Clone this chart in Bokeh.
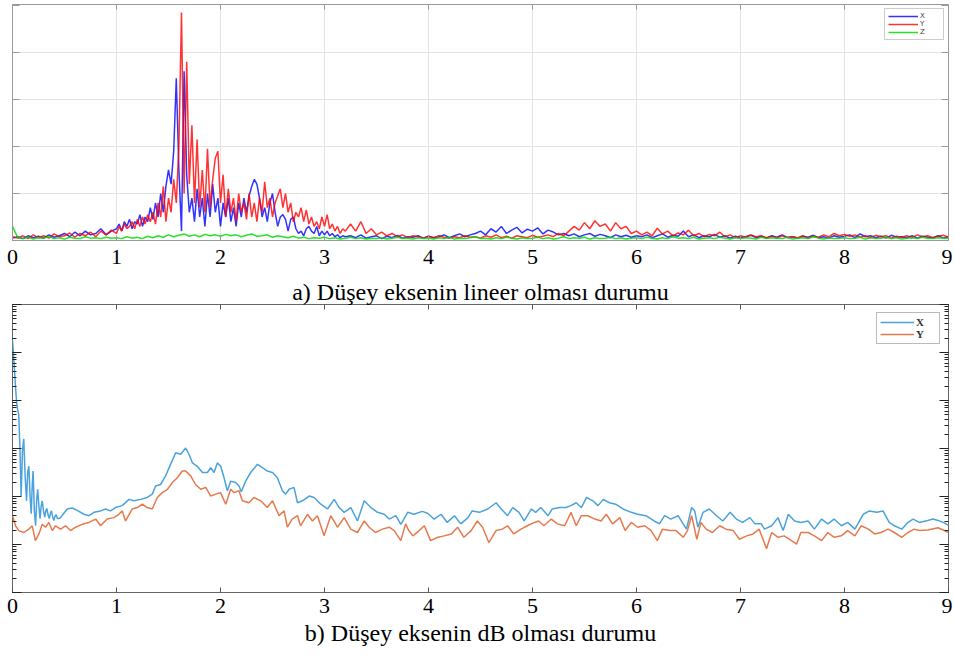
import numpy as np
from bokeh.plotting import figure
from bokeh.layouts import column
from bokeh.models import (Range1d, LinearAxis, LogAxis, FixedTicker, LogTicker, Title,
                          CustomJSTickFormatter)
from bokeh.embed import file_html
from bokeh.resources import INLINE

# ---------------- data: panel a (linear amplitude, grid units) ----------------
XTICKS = [0, 1, 2, 3, 4, 5, 6, 7, 8, 9]
CAPTION_A = "a) Düşey eksenin lineer olması durumu"
CAPTION_B = "b) Düşey eksenin dB olması durumu"

xa_low = np.round(np.arange(0.0, 0.95 + 1e-9, 0.05), 3)     # 0.00 .. 0.95
xa_mid = np.round(np.arange(1.0, 3.2 + 1e-9, 0.025), 3)     # 1.000 .. 3.200
xa_high = np.round(np.arange(3.25, 9.0 + 1e-9, 0.05), 3)    # 3.25 .. 9.00
xa_green = np.round(np.arange(0.0, 9.0 + 1e-9, 0.05), 3)    # 0.00 .. 9.00

ax_low = [0.05, 0.08, 0.04, 0.1, 0.06, 0.09, 0.05, 0.12, 0.07, 0.1,
          0.15, 0.08, 0.18, 0.1, 0.2, 0.12, 0.15, 0.25, 0.12, 0.2]
ax_mid = [0.25, 0.35, 0.2, 0.4, 0.3, 0.45, 0.25, 0.4, 0.35, 0.55,
          0.3, 0.5, 0.4, 0.7, 0.45, 0.8, 0.5, 1.0, 0.6, 1.15,
          1.5, 1.2, 1.9, 3.45, 1.5, 0.2, 3.6, 1.4, 0.6, 0.9,
          0.4, 1.1, 0.5, 0.9, 0.3, 1.0, 0.5, 1.2, 0.6, 0.9,
          0.3, 0.8, 0.5, 0.9, 0.4, 0.7, 0.3, 0.8, 0.5, 0.9,
          0.6, 0.95, 1.15, 1.3, 1.2, 0.9, 0.5, 0.7, 0.4, 0.8,
          1.0, 0.6, 0.3, 0.5, 0.55, 0.45, 0.2, 0.45, 0.5, 0.25,
          0.15, 0.2, 0.1, 0.25, 0.3, 0.2, 0.15, 0.3, 0.1, 0.2,
          0.12, 0.2, 0.1, 0.15, 0.08, 0.12, 0.06, 0.1, 0.08]
ax_high = [0.1, 0.06, 0.12, 0.05, 0.08, 0.1, 0.04, 0.09, 0.06, 0.11,
           0.05, 0.08, 0.07, 0.1, 0.05, 0.09, 0.06, 0.08, 0.12, 0.06,
           0.1, 0.14, 0.08, 0.12,
           0.15, 0.2, 0.12, 0.25, 0.18, 0.3, 0.15, 0.22, 0.28, 0.16,
           0.24, 0.2, 0.27, 0.14, 0.22, 0.18, 0.12, 0.15,
           0.1, 0.14, 0.08, 0.12, 0.15, 0.09, 0.13, 0.1, 0.06, 0.12,
           0.08, 0.11, 0.07, 0.1,
           0.08, 0.12, 0.06, 0.1, 0.14, 0.07, 0.11, 0.09, 0.2, 0.08,
           0.12, 0.06, 0.1, 0.08, 0.13, 0.07, 0.1, 0.05, 0.09, 0.06,
           0.08, 0.11, 0.06, 0.09, 0.05, 0.1, 0.07, 0.12, 0.06, 0.08,
           0.05, 0.09, 0.07, 0.11, 0.06, 0.08, 0.05, 0.1, 0.07, 0.09,
           0.12, 0.06, 0.14, 0.08, 0.1, 0.06, 0.09, 0.05, 0.11, 0.07,
           0.08, 0.06, 0.1, 0.05, 0.09, 0.07, 0.06, 0.1, 0.05, 0.08]

ay_low = [0.08, 0.05, 0.1, 0.04, 0.12, 0.06, 0.1, 0.05, 0.14, 0.08,
          0.1, 0.16, 0.07, 0.15, 0.1, 0.18, 0.08, 0.2, 0.12, 0.22]
ay_mid = [0.15, 0.3, 0.2, 0.35, 0.25, 0.3, 0.4, 0.25, 0.45, 0.3,
          0.5, 0.35, 0.55, 0.4, 0.6, 0.35, 0.8, 0.5, 1.15, 0.4,
          0.9, 0.6, 1.3, 0.8, 2.0, 4.85, 1.0, 3.8, 1.2, 2.45,
          0.8, 2.15, 0.7, 1.5, 0.6, 1.95, 0.7, 1.3, 1.75, 1.9,
          0.8, 1.4, 0.5, 1.1, 0.6, 0.9, 0.4, 1.0, 0.6, 0.8,
          0.45, 1.0, 0.5, 0.8, 0.4, 0.9, 0.6, 1.25, 0.7, 0.9,
          0.5, 0.8, 0.95, 1.1, 0.7, 1.0, 0.6, 0.8, 0.4, 0.6,
          0.5, 0.7, 0.4, 0.65, 0.35, 0.5, 0.3, 0.4, 0.25, 0.5,
          0.3, 0.55, 0.25, 0.35, 0.2, 0.3, 0.15, 0.25, 0.2]
ay_high = [0.35, 0.2, 0.4, 0.15, 0.25, 0.12, 0.18, 0.1, 0.15, 0.08,
           0.12, 0.06, 0.1, 0.08, 0.05, 0.09, 0.06, 0.1, 0.07, 0.05,
           0.08, 0.06, 0.1, 0.07,
           0.08, 0.05, 0.1, 0.07, 0.12, 0.06, 0.09, 0.05, 0.1, 0.08,
           0.06, 0.11, 0.07, 0.09, 0.12, 0.08, 0.15, 0.1,
           0.2, 0.3, 0.22, 0.38, 0.25, 0.42, 0.3, 0.35, 0.2, 0.38,
           0.25, 0.3, 0.15, 0.2,
           0.12, 0.18, 0.1, 0.26, 0.14, 0.2, 0.1, 0.16, 0.12, 0.22,
           0.1, 0.15, 0.08, 0.13, 0.1, 0.18, 0.08, 0.12, 0.06, 0.1,
           0.07, 0.12, 0.08, 0.1, 0.06, 0.09, 0.05, 0.1, 0.07, 0.08,
           0.06, 0.1, 0.05, 0.09, 0.07, 0.12, 0.08, 0.15, 0.1, 0.13,
           0.09, 0.12, 0.07, 0.1, 0.06, 0.11, 0.08, 0.1, 0.05, 0.09,
           0.07, 0.1, 0.06, 0.12, 0.08, 0.1, 0.06, 0.09, 0.11, 0.07]

az_vals = [0.3, 0.06, 0.04, 0.07, 0.03, 0.06, 0.05, 0.08, 0.04, 0.06,
           0.03, 0.07, 0.05, 0.04, 0.08, 0.05, 0.06, 0.04, 0.07, 0.05,
           0.06, 0.04, 0.08, 0.05, 0.07, 0.04, 0.09, 0.06, 0.1, 0.07,
           0.12, 0.08, 0.11, 0.14, 0.09, 0.12, 0.08, 0.13, 0.1, 0.12,
           0.09, 0.13, 0.1, 0.12, 0.08, 0.11, 0.14, 0.09, 0.1, 0.12,
           0.07, 0.1, 0.08, 0.06, 0.09, 0.05, 0.07, 0.04, 0.06, 0.05,
           0.07, 0.04, 0.06, 0.03, 0.05, 0.07, 0.04, 0.06, 0.03, 0.05,
           0.04, 0.06, 0.03, 0.05, 0.07, 0.04, 0.05, 0.03, 0.06, 0.04,
           0.05, 0.03, 0.06, 0.04, 0.07, 0.03, 0.05, 0.04, 0.06, 0.08,
           0.04, 0.05, 0.03, 0.06, 0.04, 0.07, 0.05, 0.03, 0.06, 0.04,
           0.05, 0.07, 0.04, 0.06, 0.03, 0.05, 0.08, 0.04, 0.06, 0.05,
           0.07, 0.03, 0.06, 0.04, 0.05, 0.07, 0.04, 0.06, 0.03, 0.05,
           0.06, 0.04, 0.07, 0.05, 0.03, 0.06, 0.04, 0.08, 0.05, 0.06,
           0.04, 0.07, 0.03, 0.05, 0.06, 0.04, 0.07, 0.05, 0.03, 0.06,
           0.04, 0.06, 0.05, 0.03, 0.07, 0.04, 0.06, 0.05, 0.04, 0.07,
           0.03, 0.05, 0.06, 0.04, 0.08, 0.05, 0.03, 0.06, 0.04, 0.05,
           0.06, 0.04, 0.05, 0.07, 0.03, 0.06, 0.04, 0.05, 0.07, 0.04,
           0.06, 0.03, 0.05, 0.06, 0.04, 0.07, 0.05, 0.04, 0.06, 0.05,
           0.04]

# ---------------- data: panel b (dB, 10 dB per decade) ----------------
bx_pairs = [
    (0.0, -7.5), (0.01, -10.5), (0.02, -14.0), (0.03, -17.5), (0.04, -20.5), (0.05, -22.0),
    (0.06, -22.9), (0.072, -30.0), (0.083, -39.9), (0.096, -30.5), (0.108, -28.0),
    (0.122, -36.0), (0.135, -40.9), (0.146, -35.0), (0.157, -33.7), (0.17, -40.5),
    (0.18, -43.6), (0.19, -37.5), (0.198, -34.7), (0.21, -43.0), (0.222, -46.1),
    (0.232, -41.0), (0.242, -38.5), (0.254, -42.0), (0.265, -44.6), (0.276, -42.0),
    (0.286, -40.9), (0.298, -43.0), (0.31, -44.3), (0.32, -43.0), (0.33, -42.5),
    (0.342, -43.8), (0.354, -44.6), (0.364, -43.5), (0.374, -43.0), (0.386, -44.2),
    (0.398, -45.0), (0.41, -44.0), (0.42, -43.8), (0.432, -44.6), (0.446, -44.6),
    (0.462, -44.4), (0.494, -43.5), (0.526, -42.6), (0.574, -42.4), (0.622, -42.9),
    (0.687, -43.7), (0.735, -44.0), (0.783, -43.3), (0.847, -43.0), (0.895, -42.6),
    (0.943, -43.0), (0.991, -42.3), (1.055, -41.9), (1.12, -40.6), (1.167, -40.9),
    (1.232, -40.6), (1.296, -40.2), (1.344, -39.5), (1.376, -37.8), (1.424, -37.5),
    (1.472, -35.7), (1.52, -33.3), (1.569, -30.9), (1.617, -31.2), (1.665, -29.9),
    (1.697, -31.2), (1.73, -33.0), (1.777, -33.7), (1.826, -35.0), (1.874, -35.0),
    (1.906, -34.0), (1.938, -35.0), (1.97, -33.0), (2.002, -33.7), (2.034, -36.1),
    (2.066, -38.8), (2.098, -36.8), (2.146, -37.1), (2.178, -37.8), (2.2, -39.0),
    (2.242, -36.8), (2.29, -35.0), (2.355, -33.3), (2.403, -34.0), (2.45, -34.7),
    (2.5, -35.0), (2.547, -36.1), (2.595, -38.8), (2.627, -39.5), (2.66, -38.5),
    (2.707, -38.1), (2.74, -41.3), (2.788, -40.9), (2.852, -39.9), (2.9, -40.2),
    (2.964, -41.6), (3.029, -42.6), (3.093, -40.6), (3.141, -42.3), (3.189, -43.3),
    (3.253, -42.3), (3.317, -45.1), (3.382, -40.9), (3.446, -42.3), (3.51, -43.3),
    (3.574, -43.7), (3.622, -44.7), (3.686, -44.0), (3.734, -45.8), (3.80, -43.3),
    (3.86, -43.7), (3.94, -43.1), (3.99, -43.5), (4.055, -44.7), (4.12, -43.7),
    (4.18, -45.4), (4.25, -44.0), (4.31, -45.7), (4.38, -44.4), (4.42, -43.0),
    (4.49, -43.3), (4.57, -42.6), (4.65, -41.3), (4.70, -42.6), (4.76, -44.0),
    (4.81, -42.3), (4.87, -43.3), (4.92, -45.1), (4.99, -42.6), (5.03, -43.3),
    (5.08, -42.3), (5.15, -44.0), (5.19, -42.6), (5.26, -42.3), (5.32, -42.3),
    (5.37, -41.9), (5.42, -41.3), (5.47, -42.3), (5.52, -40.2), (5.58, -40.9),
    (5.63, -41.9), (5.68, -40.6), (5.74, -41.3), (5.80, -41.6), (5.87, -42.6),
    (5.95, -43.3), (6.01, -43.7), (6.09, -44.0), (6.17, -45.1), (6.22, -45.7),
    (6.27, -44.0), (6.33, -44.7), (6.40, -44.0), (6.48, -46.8), (6.53, -42.3),
    (6.56, -43.0), (6.59, -46.4), (6.64, -43.3), (6.70, -42.6), (6.77, -44.0),
    (6.83, -45.1), (6.90, -43.3), (6.96, -44.7), (7.02, -45.4), (7.09, -44.4),
    (7.14, -45.7), (7.20, -45.7), (7.23, -46.8), (7.30, -46.1), (7.36, -44.4),
    (7.41, -47.1), (7.46, -43.7), (7.52, -45.1), (7.58, -45.4), (7.65, -45.1),
    (7.71, -46.8), (7.78, -44.7), (7.84, -45.7), (7.90, -44.7), (7.97, -46.1),
    (8.03, -45.4), (8.10, -46.8), (8.18, -43.7), (8.24, -43.0), (8.31, -43.3),
    (8.37, -43.0), (8.43, -45.4), (8.48, -46.1), (8.55, -46.8), (8.61, -45.4),
    (8.66, -44.7), (8.72, -45.4), (8.80, -45.0), (8.85, -44.7), (8.90, -45.0),
    (8.95, -45.4), (9.0, -46.0)]

by_pairs = [
    (0.0, -44.0), (0.029, -46.1), (0.06, -47.1), (0.109, -47.5), (0.157, -46.8),
    (0.19, -46.1), (0.22, -49.2), (0.254, -47.8), (0.286, -45.8), (0.318, -46.4),
    (0.35, -45.4), (0.382, -47.1), (0.414, -46.1), (0.462, -46.8), (0.51, -46.1),
    (0.558, -47.1), (0.607, -46.4), (0.67, -45.8), (0.735, -45.4), (0.8, -44.7),
    (0.847, -46.1), (0.91, -44.7), (0.975, -44.4), (1.023, -43.7), (1.055, -43.0),
    (1.087, -45.1), (1.152, -42.6), (1.2, -42.3), (1.248, -41.6), (1.296, -42.3),
    (1.344, -42.6), (1.392, -40.2), (1.44, -39.2), (1.49, -38.5), (1.537, -37.1),
    (1.585, -36.1), (1.633, -34.7), (1.665, -34.7), (1.713, -35.7), (1.76, -37.5),
    (1.81, -38.5), (1.858, -38.1), (1.906, -39.9), (1.954, -39.5), (2.0, -39.2),
    (2.05, -41.6), (2.098, -38.5), (2.13, -39.2), (2.178, -38.8), (2.21, -40.9),
    (2.274, -41.3), (2.32, -40.2), (2.387, -40.9), (2.45, -42.3), (2.5, -40.9),
    (2.563, -44.0), (2.611, -43.0), (2.643, -46.4), (2.69, -44.7), (2.74, -44.0),
    (2.77, -46.1), (2.836, -43.7), (2.884, -45.1), (2.932, -44.0), (2.996, -48.2),
    (3.06, -44.0), (3.125, -46.4), (3.189, -44.4), (3.253, -46.8), (3.317, -47.5),
    (3.382, -45.1), (3.43, -46.4), (3.49, -47.5), (3.558, -46.8), (3.622, -46.4),
    (3.67, -47.1), (3.734, -49.2), (3.78, -45.7), (3.81, -47.1), (3.85, -48.2),
    (3.91, -47.1), (3.96, -46.1), (4.02, -49.2), (4.09, -48.5), (4.15, -48.2),
    (4.22, -47.8), (4.28, -46.4), (4.34, -48.5), (4.41, -47.1), (4.47, -45.1),
    (4.52, -46.4), (4.58, -49.6), (4.65, -47.1), (4.71, -46.8), (4.76, -46.1),
    (4.82, -47.8), (4.89, -46.8), (4.95, -46.1), (5.02, -45.4), (5.06, -45.1),
    (5.11, -46.1), (5.18, -44.7), (5.24, -45.7), (5.31, -46.1), (5.37, -43.3),
    (5.42, -46.1), (5.47, -44.0), (5.53, -44.0), (5.60, -44.7), (5.66, -45.1),
    (5.71, -43.7), (5.77, -45.7), (5.84, -44.4), (5.89, -47.1), (5.95, -45.4),
    (6.01, -46.4), (6.08, -46.1), (6.14, -47.1), (6.20, -49.2), (6.25, -46.8),
    (6.32, -47.1), (6.38, -47.1), (6.45, -48.5), (6.49, -47.1), (6.53, -44.0),
    (6.58, -48.9), (6.62, -45.4), (6.67, -46.8), (6.73, -47.5), (6.80, -46.1),
    (6.86, -46.8), (6.93, -47.1), (6.99, -48.9), (7.06, -48.2), (7.12, -47.8),
    (7.18, -46.8), (7.25, -50.9), (7.30, -47.5), (7.36, -48.5), (7.42, -48.2),
    (7.49, -49.2), (7.54, -49.9), (7.58, -47.5), (7.65, -47.5), (7.71, -48.2),
    (7.78, -49.2), (7.84, -47.5), (7.90, -48.5), (7.97, -48.2), (8.03, -47.1),
    (8.10, -48.2), (8.16, -46.1), (8.23, -46.8), (8.29, -47.8), (8.35, -47.5),
    (8.42, -46.8), (8.48, -47.5), (8.55, -48.5), (8.61, -47.5), (8.67, -46.8),
    (8.72, -47.1), (8.80, -47.0), (8.90, -46.5), (9.0, -47.5)]

# ---------------- helpers ----------------
SERIF = "Liberation Serif"


def style_axis(ax, tick_in=5, labels=True, color="#777777", standoff=2):
    ax.axis_line_color = None
    ax.major_tick_in = tick_in
    ax.major_tick_out = 0
    ax.minor_tick_in = 4
    ax.minor_tick_out = 0
    ax.major_tick_line_color = color
    ax.minor_tick_line_color = color
    if labels:
        ax.major_label_text_font = SERIF
        ax.major_label_text_font_size = "22px"
        ax.major_label_text_color = "black"
        ax.major_label_standoff = standoff
    else:
        ax.formatter = CustomJSTickFormatter(code="return ''")
        ax.major_label_standoff = 0
        ax.major_label_text_font_size = "1px"


def caption(text, standoff):
    return Title(text=text, align="center", text_font=SERIF, text_font_size="24px",
                 text_font_style="normal", text_color="black", standoff=standoff)


# ---------------- panel a ----------------
H1 = 276
p1 = figure(width=952, height=H1, output_backend="svg", toolbar_location=None,
            x_range=Range1d(0, 9), y_range=Range1d(0, 5.02),
            min_border_top=4, min_border_left=12, min_border_right=4,
            min_border_bottom=H1 - 240)
p1.outline_line_color = "#9a9a9a"
p1.xaxis.ticker = FixedTicker(ticks=XTICKS)
p1.yaxis.ticker = FixedTicker(ticks=[0, 1, 2, 3, 4, 5])
p1.xaxis.minor_tick_line_color = None
style_axis(p1.xaxis[0], 5, True, "#999999", standoff=9)
style_axis(p1.yaxis[0], 7, False, "#999999")
p1.yaxis.minor_tick_line_color = None
r1 = LinearAxis(ticker=FixedTicker(ticks=[0, 1, 2, 3, 4, 5]))
style_axis(r1, 7, False, "#999999")
r1.minor_tick_line_color = None
p1.add_layout(r1, "right")
t1 = LinearAxis(ticker=FixedTicker(ticks=XTICKS))
style_axis(t1, 5, False, "#999999")
t1.minor_tick_line_color = None
p1.add_layout(t1, "above")
p1.xgrid.ticker = FixedTicker(ticks=XTICKS)
p1.ygrid.ticker = FixedTicker(ticks=[1, 2, 3, 4])
p1.xgrid.grid_line_color = "#e3e3e3"
p1.ygrid.grid_line_color = "#e3e3e3"

xa = np.concatenate([xa_low, xa_mid, xa_high])
p1.line(xa, ax_low + ax_mid + ax_high, line_color="#0000ff", line_width=1.5,
        line_alpha=0.8, legend_label="X")
p1.line(xa, ay_low + ay_mid + ay_high, line_color="#ff0000", line_width=1.5,
        line_alpha=0.8, legend_label="Y")
p1.line(xa_green, az_vals, line_color="#00dd00", line_width=1.5,
        line_alpha=0.85, legend_label="Z")

p1.legend.location = "top_right"
p1.legend.label_text_font_size = "7px"
p1.legend.label_text_font = "DejaVu Sans"
p1.legend.label_text_color = "#444444"
p1.legend.glyph_width = 30
p1.legend.glyph_height = 8
p1.legend.label_height = 8
p1.legend.spacing = 0
p1.legend.padding = 3
p1.legend.margin = 4
p1.legend.label_standoff = 2
p1.legend.border_line_color = "#999999"

# ---------------- panel b ----------------
H2 = 379
p2 = figure(width=952, height=H2, output_backend="svg", toolbar_location=None,
            x_range=Range1d(0, 9), y_range=Range1d(1e-6, 1), y_axis_type="log",
            min_border_top=303 - H1, min_border_left=12, min_border_right=4,
            min_border_bottom=H2 - (592 - H1))
p2.outline_line_color = "#666666"
p2.xgrid.grid_line_color = None
p2.ygrid.grid_line_color = None
p2.xaxis.ticker = FixedTicker(ticks=XTICKS)
p2.xaxis.minor_tick_line_color = None
style_axis(p2.xaxis[0], 5, True, "#555555", standoff=6)
p2.yaxis.ticker = LogTicker(mantissas=[1], desired_num_ticks=7, num_minor_ticks=10)
style_axis(p2.yaxis[0], 9, False, "#222222")
r2 = LogAxis(ticker=LogTicker(mantissas=[1], desired_num_ticks=7, num_minor_ticks=10))
style_axis(r2, 9, False, "#222222")
p2.add_layout(r2, "right")
t2 = LinearAxis(ticker=FixedTicker(ticks=XTICKS))
style_axis(t2, 5, False, "#555555")
t2.minor_tick_line_color = None
p2.add_layout(t2, "above")
# caption of panel a sits between the two panels
p2.add_layout(caption(CAPTION_A, 0), "above")

bx_x = [a for a, _ in bx_pairs]
bx_v = [10 ** (d / 10.0) for _, d in bx_pairs]
by_x = [a for a, _ in by_pairs]
by_v = [10 ** (d / 10.0) for _, d in by_pairs]
p2.line(bx_x, bx_v, line_color="#4ba3dc", line_width=1.5, legend_label="X")
p2.line(by_x, by_v, line_color="#e57a4e", line_width=1.5, legend_label="Y")

p2.legend.location = "top_right"
p2.legend.label_text_font_size = "11px"
p2.legend.label_text_font = SERIF
p2.legend.label_text_font_style = "bold"
p2.legend.label_text_color = "#333333"
p2.legend.glyph_width = 34
p2.legend.glyph_height = 12
p2.legend.label_height = 12
p2.legend.spacing = 0
p2.legend.padding = 3
p2.legend.margin = 8
p2.legend.label_standoff = 2
p2.legend.border_line_color = "#777777"
p2.add_layout(caption(CAPTION_B, 5), "below")

layout = column(p1, p2, spacing=0)
open("out.html", "w").write(file_html(layout, INLINE))
